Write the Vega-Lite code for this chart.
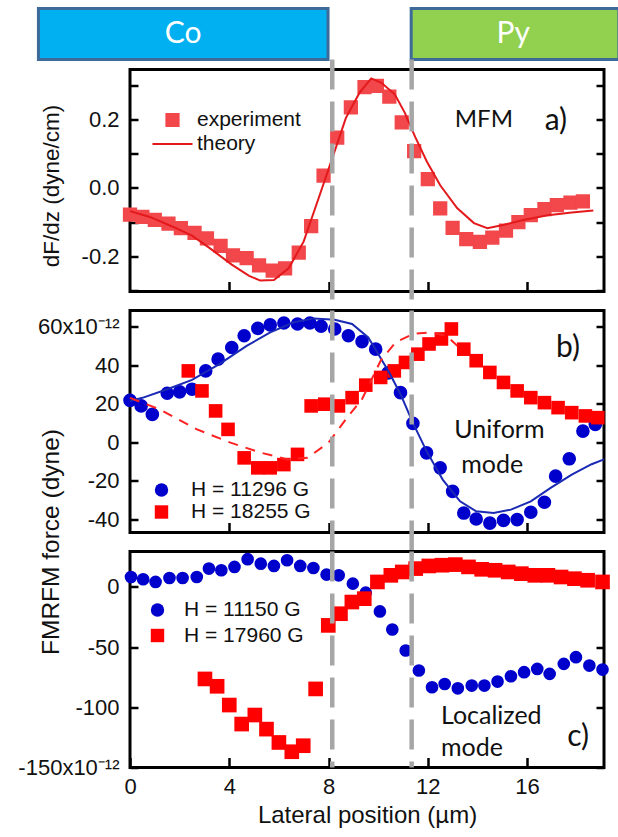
{
  "$schema": "https://vega.github.io/schema/vega-lite/v6.json",
  "background": "white",
  "padding": {"left": 16, "top": 4.5, "right": 0, "bottom": 0},
  "datasets": {
    "boxes": [
      {"label": "Co", "x0": -3.69, "x1": 7.98, "xm": 2.14},
      {"label": "Py", "x0": 11.33, "x1": 19.7, "xm": 15.44}
    ],
    "lines": [{"x": 8.15}, {"x": 11.35}],
    "a_exp": [
      {"x": 0.0, "y": -0.078, "series": "experiment"}, {"x": 0.5, "y": -0.085, "series": "experiment"},
      {"x": 1.0, "y": -0.094, "series": "experiment"}, {"x": 1.55, "y": -0.105, "series": "experiment"},
      {"x": 2.05, "y": -0.118, "series": "experiment"}, {"x": 2.6, "y": -0.132, "series": "experiment"},
      {"x": 3.1, "y": -0.148, "series": "experiment"}, {"x": 3.65, "y": -0.17, "series": "experiment"},
      {"x": 4.15, "y": -0.198, "series": "experiment"}, {"x": 4.7, "y": -0.206, "series": "experiment"},
      {"x": 5.2, "y": -0.227, "series": "experiment"}, {"x": 5.75, "y": -0.243, "series": "experiment"},
      {"x": 6.25, "y": -0.236, "series": "experiment"}, {"x": 6.8, "y": -0.19, "series": "experiment"},
      {"x": 7.3, "y": -0.112, "series": "experiment"}, {"x": 7.8, "y": 0.036, "series": "experiment"},
      {"x": 8.35, "y": 0.148, "series": "experiment"}, {"x": 8.9, "y": 0.237, "series": "experiment"},
      {"x": 9.45, "y": 0.296, "series": "experiment"}, {"x": 9.95, "y": 0.3, "series": "experiment"},
      {"x": 10.45, "y": 0.268, "series": "experiment"}, {"x": 10.95, "y": 0.193, "series": "experiment"},
      {"x": 11.45, "y": 0.108, "series": "experiment"}, {"x": 12.0, "y": 0.026, "series": "experiment"},
      {"x": 12.5, "y": -0.06, "series": "experiment"}, {"x": 13.0, "y": -0.117, "series": "experiment"},
      {"x": 13.55, "y": -0.15, "series": "experiment"}, {"x": 14.1, "y": -0.158, "series": "experiment"},
      {"x": 14.6, "y": -0.146, "series": "experiment"}, {"x": 15.15, "y": -0.125, "series": "experiment"},
      {"x": 15.65, "y": -0.1, "series": "experiment"}, {"x": 16.15, "y": -0.08, "series": "experiment"},
      {"x": 16.7, "y": -0.062, "series": "experiment"}, {"x": 17.2, "y": -0.05, "series": "experiment"},
      {"x": 17.75, "y": -0.043, "series": "experiment"}, {"x": 18.25, "y": -0.039, "series": "experiment"}
    ],
    "a_th": [
      {"x": 0.0, "y": -0.068, "series": "theory"}, {"x": 0.8, "y": -0.085, "series": "theory"},
      {"x": 1.7, "y": -0.113, "series": "theory"}, {"x": 2.5, "y": -0.14, "series": "theory"},
      {"x": 3.2, "y": -0.176, "series": "theory"}, {"x": 4.1, "y": -0.225, "series": "theory"},
      {"x": 4.8, "y": -0.258, "series": "theory"}, {"x": 5.25, "y": -0.272, "series": "theory"},
      {"x": 5.8, "y": -0.27, "series": "theory"}, {"x": 6.4, "y": -0.235, "series": "theory"},
      {"x": 7.0, "y": -0.157, "series": "theory"}, {"x": 7.6, "y": -0.03, "series": "theory"},
      {"x": 8.2, "y": 0.098, "series": "theory"}, {"x": 8.7, "y": 0.206, "series": "theory"},
      {"x": 9.25, "y": 0.28, "series": "theory"}, {"x": 9.72, "y": 0.322, "series": "theory"},
      {"x": 10.13, "y": 0.309, "series": "theory"}, {"x": 10.67, "y": 0.275, "series": "theory"},
      {"x": 11.08, "y": 0.22, "series": "theory"}, {"x": 11.49, "y": 0.15, "series": "theory"},
      {"x": 11.96, "y": 0.078, "series": "theory"}, {"x": 12.5, "y": 0.008, "series": "theory"},
      {"x": 13.18, "y": -0.059, "series": "theory"}, {"x": 13.86, "y": -0.103, "series": "theory"},
      {"x": 14.4, "y": -0.118, "series": "theory"}, {"x": 15.08, "y": -0.108, "series": "theory"},
      {"x": 15.89, "y": -0.093, "series": "theory"}, {"x": 16.84, "y": -0.08, "series": "theory"},
      {"x": 17.8, "y": -0.072, "series": "theory"}, {"x": 18.67, "y": -0.066, "series": "theory"}
    ],
    "b_pts": [
      {"x": 0.0, "y": 21.7, "series": "H = 11296 G"}, {"x": 0.45, "y": 18.8, "series": "H = 11296 G"},
      {"x": 0.9, "y": 14.4, "series": "H = 11296 G"}, {"x": 1.5, "y": 25.4, "series": "H = 11296 G"},
      {"x": 2.0, "y": 26.1, "series": "H = 11296 G"}, {"x": 2.5, "y": 27.5, "series": "H = 11296 G"},
      {"x": 3.05, "y": 37.0, "series": "H = 11296 G"}, {"x": 3.55, "y": 43.1, "series": "H = 11296 G"},
      {"x": 4.1, "y": 49.2, "series": "H = 11296 G"}, {"x": 4.6, "y": 55.3, "series": "H = 11296 G"},
      {"x": 5.15, "y": 59.1, "series": "H = 11296 G"}, {"x": 5.65, "y": 60.9, "series": "H = 11296 G"},
      {"x": 6.2, "y": 61.9, "series": "H = 11296 G"}, {"x": 6.75, "y": 61.4, "series": "H = 11296 G"},
      {"x": 7.25, "y": 61.9, "series": "H = 11296 G"}, {"x": 7.7, "y": 60.2, "series": "H = 11296 G"},
      {"x": 8.25, "y": 58.8, "series": "H = 11296 G"}, {"x": 8.8, "y": 55.3, "series": "H = 11296 G"},
      {"x": 9.35, "y": 52.2, "series": "H = 11296 G"}, {"x": 9.9, "y": 48.3, "series": "H = 11296 G"},
      {"x": 10.4, "y": 36.0, "series": "H = 11296 G"}, {"x": 10.9, "y": 25.7, "series": "H = 11296 G"},
      {"x": 11.4, "y": 9.7, "series": "H = 11296 G"}, {"x": 11.95, "y": -5.6, "series": "H = 11296 G"},
      {"x": 12.5, "y": -13.4, "series": "H = 11296 G"}, {"x": 13.0, "y": -25.6, "series": "H = 11296 G"},
      {"x": 13.45, "y": -36.9, "series": "H = 11296 G"}, {"x": 13.95, "y": -40.0, "series": "H = 11296 G"},
      {"x": 14.5, "y": -42.1, "series": "H = 11296 G"}, {"x": 15.05, "y": -40.7, "series": "H = 11296 G"},
      {"x": 15.6, "y": -40.3, "series": "H = 11296 G"}, {"x": 16.15, "y": -36.5, "series": "H = 11296 G"},
      {"x": 16.7, "y": -31.3, "series": "H = 11296 G"}, {"x": 17.15, "y": -17.7, "series": "H = 11296 G"},
      {"x": 17.7, "y": -8.7, "series": "H = 11296 G"}, {"x": 18.25, "y": 5.7, "series": "H = 11296 G"},
      {"x": 18.75, "y": 9.2, "series": "H = 11296 G"},
      {"x": 2.35, "y": 37.0, "series": "H = 18255 G"}, {"x": 2.9, "y": 26.6, "series": "H = 18255 G"},
      {"x": 3.45, "y": 16.2, "series": "H = 18255 G"}, {"x": 3.95, "y": 6.6, "series": "H = 18255 G"},
      {"x": 4.6, "y": -8.2, "series": "H = 18255 G"}, {"x": 5.15, "y": -13.4, "series": "H = 18255 G"},
      {"x": 5.65, "y": -13.4, "series": "H = 18255 G"}, {"x": 6.2, "y": -11.7, "series": "H = 18255 G"},
      {"x": 6.75, "y": -6.4, "series": "H = 18255 G"}, {"x": 7.3, "y": 18.8, "series": "H = 18255 G"},
      {"x": 7.85, "y": 19.7, "series": "H = 18255 G"}, {"x": 8.4, "y": 18.8, "series": "H = 18255 G"},
      {"x": 8.95, "y": 23.1, "series": "H = 18255 G"}, {"x": 9.5, "y": 29.6, "series": "H = 18255 G"},
      {"x": 10.1, "y": 33.6, "series": "H = 18255 G"}, {"x": 10.65, "y": 37.0, "series": "H = 18255 G"},
      {"x": 11.1, "y": 41.4, "series": "H = 18255 G"}, {"x": 11.6, "y": 45.7, "series": "H = 18255 G"},
      {"x": 12.05, "y": 51.0, "series": "H = 18255 G"}, {"x": 12.55, "y": 53.6, "series": "H = 18255 G"},
      {"x": 12.95, "y": 58.8, "series": "H = 18255 G"}, {"x": 13.45, "y": 48.3, "series": "H = 18255 G"},
      {"x": 13.95, "y": 42.3, "series": "H = 18255 G"}, {"x": 14.5, "y": 36.2, "series": "H = 18255 G"},
      {"x": 15.05, "y": 31.0, "series": "H = 18255 G"}, {"x": 15.6, "y": 26.6, "series": "H = 18255 G"},
      {"x": 16.15, "y": 23.1, "series": "H = 18255 G"}, {"x": 16.7, "y": 20.5, "series": "H = 18255 G"},
      {"x": 17.25, "y": 17.9, "series": "H = 18255 G"}, {"x": 17.8, "y": 15.3, "series": "H = 18255 G"},
      {"x": 18.35, "y": 13.6, "series": "H = 18255 G"}, {"x": 18.85, "y": 12.7, "series": "H = 18255 G"}
    ],
    "b_blue_th": [
      {"x": 0.0, "y": 21.4}, {"x": 0.5, "y": 23.0}, {"x": 1.5, "y": 27.5}, {"x": 2.5, "y": 32.3},
      {"x": 3.6, "y": 40.5}, {"x": 4.7, "y": 50.0}, {"x": 5.65, "y": 57.0}, {"x": 6.6, "y": 62.3},
      {"x": 7.4, "y": 64.3}, {"x": 8.25, "y": 63.6}, {"x": 8.95, "y": 61.4}, {"x": 9.6, "y": 54.4},
      {"x": 9.9, "y": 48.0}, {"x": 10.45, "y": 36.0}, {"x": 10.9, "y": 24.9}, {"x": 11.4, "y": 10.0},
      {"x": 11.95, "y": -4.7}, {"x": 12.6, "y": -19.5}, {"x": 13.3, "y": -30.8}, {"x": 13.95, "y": -36.0},
      {"x": 14.65, "y": -36.9}, {"x": 15.35, "y": -35.1}, {"x": 16.15, "y": -30.8}, {"x": 16.95, "y": -23.8},
      {"x": 17.8, "y": -16.9}, {"x": 18.6, "y": -11.5}, {"x": 19.1, "y": -9.0}
    ],
    "b_red_th": [
      {"x": 0.0, "y": 23.0}, {"x": 1.2, "y": 17.0}, {"x": 2.7, "y": 6.6}, {"x": 4.05, "y": -0.3},
      {"x": 5.3, "y": -5.6}, {"x": 6.35, "y": -9.0}, {"x": 7.15, "y": -8.2}, {"x": 8.0, "y": -0.3},
      {"x": 8.8, "y": 13.6}, {"x": 9.35, "y": 22.3}, {"x": 10.1, "y": 42.3}, {"x": 10.7, "y": 51.8},
      {"x": 11.4, "y": 56.2}, {"x": 12.05, "y": 57.0}, {"x": 12.75, "y": 55.3}, {"x": 13.2, "y": 50.0}
    ],
    "c_blue": [
      {"x": 0.04, "y": 8.3, "series": "H = 11150 G"}, {"x": 0.53, "y": 6.4, "series": "H = 11150 G"},
      {"x": 1.03, "y": 4.2, "series": "H = 11150 G"}, {"x": 1.59, "y": 7.5, "series": "H = 11150 G"},
      {"x": 2.12, "y": 7.5, "series": "H = 11150 G"}, {"x": 2.69, "y": 8.3, "series": "H = 11150 G"},
      {"x": 3.18, "y": 15.3, "series": "H = 11150 G"}, {"x": 3.68, "y": 13.9, "series": "H = 11150 G"},
      {"x": 4.21, "y": 16.7, "series": "H = 11150 G"}, {"x": 4.74, "y": 23.1, "series": "H = 11150 G"},
      {"x": 5.27, "y": 19.4, "series": "H = 11150 G"}, {"x": 5.8, "y": 17.5, "series": "H = 11150 G"},
      {"x": 6.33, "y": 22.2, "series": "H = 11150 G"}, {"x": 6.86, "y": 17.5, "series": "H = 11150 G"},
      {"x": 7.39, "y": 15.8, "series": "H = 11150 G"}, {"x": 7.92, "y": 10.3, "series": "H = 11150 G"},
      {"x": 8.41, "y": 9.7, "series": "H = 11150 G"}, {"x": 8.98, "y": 2.8, "series": "H = 11150 G"},
      {"x": 9.5, "y": -4.7, "series": "H = 11150 G"}, {"x": 10.07, "y": -20.3, "series": "H = 11150 G"},
      {"x": 10.57, "y": -35.3, "series": "H = 11150 G"}, {"x": 11.11, "y": -52.8, "series": "H = 11150 G"},
      {"x": 11.64, "y": -69.4, "series": "H = 11150 G"}, {"x": 12.17, "y": -83.3, "series": "H = 11150 G"},
      {"x": 12.68, "y": -80.6, "series": "H = 11150 G"}, {"x": 13.21, "y": -84.2, "series": "H = 11150 G"},
      {"x": 13.77, "y": -81.9, "series": "H = 11150 G"}, {"x": 14.28, "y": -81.9, "series": "H = 11150 G"},
      {"x": 14.81, "y": -78.6, "series": "H = 11150 G"}, {"x": 15.35, "y": -74.2, "series": "H = 11150 G"},
      {"x": 15.88, "y": -70.8, "series": "H = 11150 G"}, {"x": 16.41, "y": -68.1, "series": "H = 11150 G"},
      {"x": 16.91, "y": -72.2, "series": "H = 11150 G"}, {"x": 17.48, "y": -63.9, "series": "H = 11150 G"},
      {"x": 17.97, "y": -58.3, "series": "H = 11150 G"}, {"x": 18.51, "y": -65.3, "series": "H = 11150 G"},
      {"x": 19.04, "y": -68.6, "series": "H = 11150 G"}
    ],
    "c_red": [
      {"x": 3.02, "y": -76.4, "series": "H = 17960 G"}, {"x": 3.51, "y": -82.5, "series": "H = 17960 G"},
      {"x": 4.0, "y": -98.1, "series": "H = 17960 G"}, {"x": 4.5, "y": -113.9, "series": "H = 17960 G"},
      {"x": 5.03, "y": -106.4, "series": "H = 17960 G"}, {"x": 5.5, "y": -118.1, "series": "H = 17960 G"},
      {"x": 6.0, "y": -129.2, "series": "H = 17960 G"}, {"x": 6.52, "y": -136.9, "series": "H = 17960 G"},
      {"x": 6.98, "y": -131.9, "series": "H = 17960 G"}, {"x": 7.48, "y": -84.7, "series": "H = 17960 G"},
      {"x": 7.99, "y": -31.9, "series": "H = 17960 G"}, {"x": 8.48, "y": -22.2, "series": "H = 17960 G"},
      {"x": 8.94, "y": -12.5, "series": "H = 17960 G"}, {"x": 9.44, "y": -9.7, "series": "H = 17960 G"},
      {"x": 9.97, "y": 4.2, "series": "H = 17960 G"}, {"x": 10.51, "y": 9.7, "series": "H = 17960 G"},
      {"x": 10.97, "y": 12.5, "series": "H = 17960 G"}, {"x": 11.51, "y": 15.3, "series": "H = 17960 G"},
      {"x": 12.04, "y": 17.5, "series": "H = 17960 G"}, {"x": 12.57, "y": 18.1, "series": "H = 17960 G"},
      {"x": 13.11, "y": 18.6, "series": "H = 17960 G"}, {"x": 13.64, "y": 16.7, "series": "H = 17960 G"},
      {"x": 14.17, "y": 14.7, "series": "H = 17960 G"}, {"x": 14.71, "y": 13.9, "series": "H = 17960 G"},
      {"x": 15.24, "y": 12.5, "series": "H = 17960 G"}, {"x": 15.77, "y": 11.1, "series": "H = 17960 G"},
      {"x": 16.31, "y": 9.7, "series": "H = 17960 G"}, {"x": 16.84, "y": 9.7, "series": "H = 17960 G"},
      {"x": 17.37, "y": 8.3, "series": "H = 17960 G"}, {"x": 17.91, "y": 6.9, "series": "H = 17960 G"},
      {"x": 18.44, "y": 5.6, "series": "H = 17960 G"}, {"x": 19.04, "y": 4.2, "series": "H = 17960 G"}
    ]
  },
  "vconcat": [
    {
      "width": 474, "height": 222,
      "layer": [
        {
          "data": {"name": "boxes"},
          "mark": {"type": "rect", "stroke": "#3D6A99", "strokeWidth": 3, "clip": false},
          "encoding": {
            "x": {"field": "x0", "type": "quantitative", "scale": {"domain": [0, 19.1], "nice": false, "zero": false},
                  "axis": {"values": [4, 8, 12, 16], "labels": false, "title": null, "tickSize": -10}},
            "x2": {"field": "x1"},
            "y": {"datum": 0.5274, "type": "quantitative", "scale": {"domain": [-0.304, 0.348], "nice": false, "zero": false}, "axis": null},
            "y2": {"datum": 0.3774},
            "fill": {"condition": {"test": "datum.label === 'Co'", "value": "#00B0F0"}, "value": "#92D050"}
          }
        },
        {
          "data": {"name": "boxes"},
          "mark": {"type": "text", "font": "Lato", "fontSize": 30, "color": "white", "baseline": "middle"},
          "encoding": {
            "x": {"field": "xm", "type": "quantitative"},
            "y": {"datum": 0.452, "type": "quantitative", "axis": null},
            "text": {"field": "label"}
          }
        },
        {
          "data": {"name": "a_exp"},
          "mark": {"type": "point", "filled": false, "size": 150, "opacity": 1, "strokeWidth": 2},
          "encoding": {
            "x": {"field": "x", "type": "quantitative"},
            "y": {"field": "y", "type": "quantitative",
                  "axis": {"values": [-0.3, -0.2, -0.1, 0, 0.1, 0.2, 0.3],
                           "labelExpr": "abs(round(datum.value*10)) % 2 == 1 ? '' : (datum.value < -0.01 ? '-' : '') + format(abs(datum.value), '.1f')",
                           "title": "dF/dz (dyne/cm)", "titleX": -72, "titleY": 116, "titleBaseline": "alphabetic", "titleFontSize": 22.5}},
            "color": {"field": "series", "type": "nominal",
                      "scale": {"domain": ["experiment", "theory"], "range": ["#F2474B", "#E3191C"]},
                      "legend": {"orient": "none", "legendX": 32, "legendY": 40, "title": null, "symbolSize": 150, "labelOffset": 14, "rowPadding": 2, "symbolStrokeWidth": 2}},
            "fill": {"field": "series", "type": "nominal",
                     "scale": {"domain": ["experiment", "theory"], "range": ["#F2474B", "transparent"]}},
            "shape": {"field": "series", "type": "nominal",
                      "scale": {"domain": ["experiment", "theory"], "range": ["square", "M-3.27,0H3.27"]}}
          }
        },
        {
          "data": {"name": "a_th"},
          "mark": {"type": "line", "strokeWidth": 2},
          "encoding": {
            "x": {"field": "x", "type": "quantitative"},
            "y": {"field": "y", "type": "quantitative",
                  "axis": {"orient": "right", "values": [-0.3, -0.2, -0.1, 0, 0.1, 0.2, 0.3], "labels": false, "title": null}},
            "color": {"field": "series", "type": "nominal"}
          }
        },
        {
          "data": {"values": [{}]},
          "mark": {"type": "text", "font": "Lato", "fontSize": 24, "align": "center", "baseline": "middle", "color": "#111"},
          "encoding": {"x": {"datum": 14.26, "type": "quantitative"}, "y": {"datum": 0.199, "type": "quantitative", "axis": null}, "text": {"value": "MFM"}}
        },
        {
          "data": {"values": [{}]},
          "mark": {"type": "text", "font": "Lato", "fontSize": 30, "align": "center", "baseline": "middle", "color": "#111"},
          "encoding": {"x": {"datum": 17.16, "type": "quantitative"}, "y": {"datum": 0.196, "type": "quantitative", "axis": null}, "text": {"value": "a)"}}
        },
        {
          "data": {"name": "lines"},
          "mark": {"type": "rule", "color": "#A6A6A6", "strokeWidth": 4.5, "strokeDash": [30, 12], "clip": false},
          "encoding": {
            "x": {"field": "x", "type": "quantitative"},
            "y": {"datum": 0.3774, "type": "quantitative", "axis": null},
            "y2": {"datum": -0.36}
          }
        }
      ],
      "resolve": {"axis": {"y": "independent"}}
    },
    {
      "width": 474, "height": 222,
      "layer": [
        {
          "data": {"name": "b_pts"},
          "mark": {"type": "point", "filled": true, "size": 185, "opacity": 1},
          "encoding": {
            "x": {"field": "x", "type": "quantitative", "scale": {"domain": [0, 19.1], "nice": false, "zero": false},
                  "axis": {"values": [4, 8, 12, 16], "labels": false, "title": null, "tickSize": -10}},
            "y": {"field": "y", "type": "quantitative", "scale": {"domain": [-47, 68.4], "nice": false, "zero": false},
                  "axis": {"values": [-40, -20, 0, 20, 40, 60],
                           "labelExpr": "datum.value == 60 ? '60x10⁻¹²' : (datum.value < 0 ? '-' : '') + abs(datum.value)",
                           "title": null}},
            "color": {"field": "series", "type": "nominal",
                      "scale": {"domain": ["H = 11296 G", "H = 18255 G"], "range": ["#0000CC", "#FF0000"]},
                      "legend": {"orient": "none", "legendX": 21, "legendY": 169, "title": null, "symbolSize": 180, "labelOffset": 19, "rowPadding": 0}},
            "shape": {"field": "series", "type": "nominal",
                      "scale": {"domain": ["H = 11296 G", "H = 18255 G"], "range": ["circle", "square"]}}
          }
        },
        {
          "data": {"name": "b_blue_th"},
          "mark": {"type": "line", "strokeWidth": 2, "color": "#1A2AB4"},
          "encoding": {
            "x": {"field": "x", "type": "quantitative"},
            "y": {"field": "y", "type": "quantitative",
                  "axis": {"orient": "right", "values": [-40, -20, 0, 20, 40, 60], "labels": false, "title": null}}
          }
        },
        {
          "data": {"name": "b_red_th"},
          "mark": {"type": "line", "strokeWidth": 2, "color": "#FF2222", "strokeDash": [10, 8]},
          "encoding": {
            "x": {"field": "x", "type": "quantitative"},
            "y": {"field": "y", "type": "quantitative", "axis": null}
          }
        },
        {
          "data": {"values": [{}]},
          "mark": {"type": "text", "font": "Lato", "fontSize": 30, "align": "center", "baseline": "middle", "color": "#111"},
          "encoding": {"x": {"datum": 17.65, "type": "quantitative"}, "y": {"datum": 48.8, "type": "quantitative", "axis": null}, "text": {"value": "b)"}}
        },
        {
          "data": {"values": [{}]},
          "mark": {"type": "text", "font": "Lato", "fontSize": 25, "align": "left", "baseline": "alphabetic", "color": "#111"},
          "encoding": {"x": {"datum": 13.07, "type": "quantitative"}, "y": {"datum": 2.3, "type": "quantitative", "axis": null}, "text": {"value": "Uniform"}}
        },
        {
          "data": {"values": [{}]},
          "mark": {"type": "text", "font": "Lato", "fontSize": 25, "align": "left", "baseline": "alphabetic", "color": "#111"},
          "encoding": {"x": {"datum": 13.35, "type": "quantitative"}, "y": {"datum": -16, "type": "quantitative", "axis": null}, "text": {"value": "mode"}}
        },
        {
          "data": {"name": "lines"},
          "mark": {"type": "rule", "color": "#A6A6A6", "strokeWidth": 4.5, "strokeDash": [30, 12], "clip": false},
          "encoding": {
            "x": {"field": "x", "type": "quantitative"},
            "y": {"datum": 68.4, "type": "quantitative", "axis": null},
            "y2": {"datum": -56.9}
          }
        }
      ],
      "resolve": {"axis": {"y": "independent"}}
    },
    {
      "width": 474, "height": 216,
      "layer": [
        {
          "data": {"name": "c_blue"},
          "mark": {"type": "point", "filled": true, "size": 160, "opacity": 1},
          "encoding": {
            "x": {"field": "x", "type": "quantitative", "scale": {"domain": [0, 19.1], "nice": false, "zero": false},
                  "axis": {"values": [0, 4, 8, 12, 16], "title": "Lateral position (µm)", "tickSize": -10, "labelPadding": 19, "titleFontSize": 24, "titlePadding": 6}},
            "y": {"field": "y", "type": "quantitative", "scale": {"domain": [-150, 29.5], "nice": false, "zero": false},
                  "axis": {"values": [-150, -100, -50, 0],
                           "labelExpr": "datum.value == -150 ? '-150x10⁻¹²' : (datum.value < 0 ? '-' : '') + abs(datum.value)",
                           "title": "FMRFM force (dyne)", "titleX": -72, "titleY": -10, "titleBaseline": "alphabetic", "titleFontSize": 24.5}},
            "color": {"field": "series", "type": "nominal",
                      "scale": {"domain": ["H = 11150 G", "H = 17960 G"], "range": ["#0000CC", "#FF0000"]},
                      "legend": {"orient": "none", "legendX": 17, "legendY": 48, "title": null, "symbolSize": 180, "labelOffset": 16, "rowPadding": 3.5}},
            "shape": {"field": "series", "type": "nominal",
                      "scale": {"domain": ["H = 11150 G", "H = 17960 G"], "range": ["circle", "square"]}}
          }
        },
        {
          "data": {"name": "c_red"},
          "mark": {"type": "point", "filled": true, "size": 215, "opacity": 1},
          "encoding": {
            "x": {"field": "x", "type": "quantitative"},
            "y": {"field": "y", "type": "quantitative",
                  "axis": {"orient": "right", "values": [-150, -100, -50, 0], "labels": false, "title": null}},
            "color": {"field": "series", "type": "nominal"},
            "shape": {"field": "series", "type": "nominal"}
          }
        },
        {
          "data": {"values": [{}]},
          "mark": {"type": "text", "font": "Lato", "fontSize": 25, "align": "left", "baseline": "alphabetic", "color": "#111"},
          "encoding": {"x": {"datum": 12.53, "type": "quantitative"}, "y": {"datum": -114, "type": "quantitative", "axis": null}, "text": {"value": "Localized"}}
        },
        {
          "data": {"values": [{}]},
          "mark": {"type": "text", "font": "Lato", "fontSize": 25, "align": "left", "baseline": "alphabetic", "color": "#111"},
          "encoding": {"x": {"datum": 12.53, "type": "quantitative"}, "y": {"datum": -140.3, "type": "quantitative", "axis": null}, "text": {"value": "mode"}}
        },
        {
          "data": {"values": [{}]},
          "mark": {"type": "text", "font": "Lato", "fontSize": 30, "align": "center", "baseline": "middle", "color": "#111"},
          "encoding": {"x": {"datum": 18.06, "type": "quantitative"}, "y": {"datum": -124.4, "type": "quantitative", "axis": null}, "text": {"value": "c)"}}
        },
        {
          "data": {"name": "lines"},
          "mark": {"type": "rule", "color": "#A6A6A6", "strokeWidth": 4.5, "strokeDash": [30, 12], "clip": false},
          "encoding": {
            "x": {"field": "x", "type": "quantitative"},
            "y": {"datum": 29.5, "type": "quantitative", "axis": null},
            "y2": {"datum": -150}
          }
        }
      ],
      "resolve": {"axis": {"y": "independent"}}
    }
  ],
  "spacing": 19,
  "bounds": "flush",
  "resolve": {"scale": {"color": "independent", "shape": "independent", "fill": "independent"}, "legend": {"color": "independent", "shape": "independent", "fill": "independent"}},
  "config": {
    "view": {"stroke": "black", "strokeWidth": 3},
    "axis": {
      "domain": false, "grid": false,
      "labelFont": "Liberation Sans", "labelFontSize": 22, "labelColor": "#111",
      "titleFont": "Liberation Sans", "titleFontSize": 23, "titleColor": "#111", "titleFontWeight": "normal",
      "tickColor": "black", "tickWidth": 2.5, "tickSize": -8,
      "labelPadding": 19, "labelFlush": false, "labelOverlap": false
    },
    "legend": {
      "labelFont": "Liberation Sans", "labelFontSize": 21, "labelColor": "#111",
      "padding": 0, "symbolStrokeWidth": 0, "labelLimit": 300
    }
  }
}
